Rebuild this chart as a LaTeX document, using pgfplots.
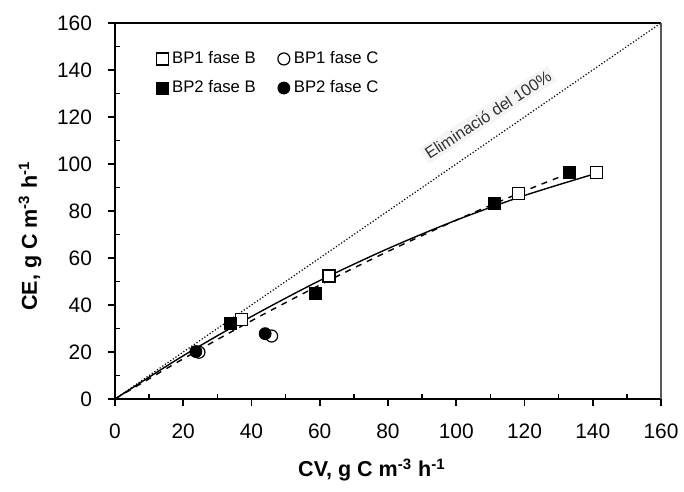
\documentclass[border=0pt]{standalone}
\usepackage{pgfplots}
\pgfplotsset{compat=1.18}
\usepackage{fontspec}
\setmainfont{Liberation Sans}

\begin{document}
\begin{tikzpicture}
\useasboundingbox (-57.5bp,-46.5bp) rectangle (284.5bp,199.5bp);
\begin{axis}[
  at={(0,0)}, anchor=south west,
  scale only axis, width=273bp, height=188bp,
  xmin=0, xmax=160, ymin=0, ymax=160,
  xtick={0,20,...,160}, ytick={0,20,...,160},
  minor x tick num=1, minor y tick num=1,
  axis lines*=left,
  axis line style={-, line width=1bp, black},
  tick style={black, line width=0.8bp},
  tick align=outside,
  major tick length=3.5bp, minor tick length=2.5bp,
  every minor x tick/.append style={yshift=2.5bp},
  every minor y tick/.append style={xshift=2.5bp},
  /pgf/number format/assume math mode=true,
  ticklabel style={font=\fontsize{10.5}{12}\selectfont},
  xticklabel style={yshift=-5.5bp},
  yticklabel style={xshift=-4.5bp},
  xlabel={\bfseries CV, g C m\textsuperscript{-3} h\textsuperscript{-1}},
  ylabel={\bfseries CE, g C m\textsuperscript{-3} h\textsuperscript{-1}},
  label style={font=\fontsize{10.8}{12}\selectfont},
  xlabel style={at={(axis description cs:0.4707,0)}, yshift=-35.5bp, anchor=center},
  ylabel style={at={(axis description cs:0,0.4335)}, yshift=42.5bp, anchor=center},
  legend columns=2,
  legend style={at={(0.0637,0.9467)}, anchor=north west, draw=none, fill=none,
    font=\fontsize{8.4}{9.5}\selectfont,
    /tikz/every even column/.append style={column sep=9bp},
    row sep=3bp},
  legend cell align=left,
  legend image code/.code={\draw[#1] plot coordinates {(0.06cm,0cm)};},
  clip=false,
]
% box top and right
\draw[black, line width=1bp] (rel axis cs:0,1) -- (rel axis cs:1,1);
\draw[black!65, line width=1bp] (rel axis cs:1,0) -- (rel axis cs:1,1);
% 100% line
\addplot[black, line width=0.6bp, densely dotted, forget plot] coordinates {(0,0) (160,160)};
% fit BP1 (solid)
\addplot[black, line width=0.7bp, smooth, forget plot] coordinates {
 (0,0) (20,18.4) (40,35.1) (60,50.4) (80,64.0) (100,76.1) (120,86.6) (141,96.0)};
% fit BP2 (dashed)
\addplot[black, line width=0.7bp, dashed, smooth, forget plot] coordinates {
 (0,0) (20,17.1) (40,33.3) (60,48.5) (80,62.8) (100,76.1) (120,88.5) (133,96.0)};

\addplot[only marks, mark=square*, mark size=3bp, mark options={fill=white, draw=black, line width=0.6bp}] coordinates {
 (37.1,33.9) (62.7,52.3) (118.2,87.5) (141.1,96.3)};
\addlegendentry{BP1 fase B}
\addplot[only marks, mark=*, mark size=3bp, mark options={fill=white, draw=black, line width=0.6bp}] coordinates {
 (24.6,19.9) (45.9,26.8)};
\addlegendentry{BP1 fase C}
\addplot[only marks, mark=square*, mark size=3bp, mark options={fill=black, draw=black}] coordinates {
 (33.9,32.3) (58.6,45.1) (111.1,83.3) (133.3,96.3)};
\addlegendentry{BP2 fase B}
\addplot[only marks, mark=*, mark size=3bp, mark options={fill=black, draw=black}] coordinates {
 (23.7,20.2) (44.0,27.8)};
\addlegendentry{BP2 fase C}

\node[rotate=33, font=\fontsize{8.2}{9.5}\selectfont, text=black!80, fill=black!4, inner sep=1.5bp]
  at (axis cs:109.3,120.9) {Eliminació del 100\%};
\end{axis}
\end{tikzpicture}
\end{document}
